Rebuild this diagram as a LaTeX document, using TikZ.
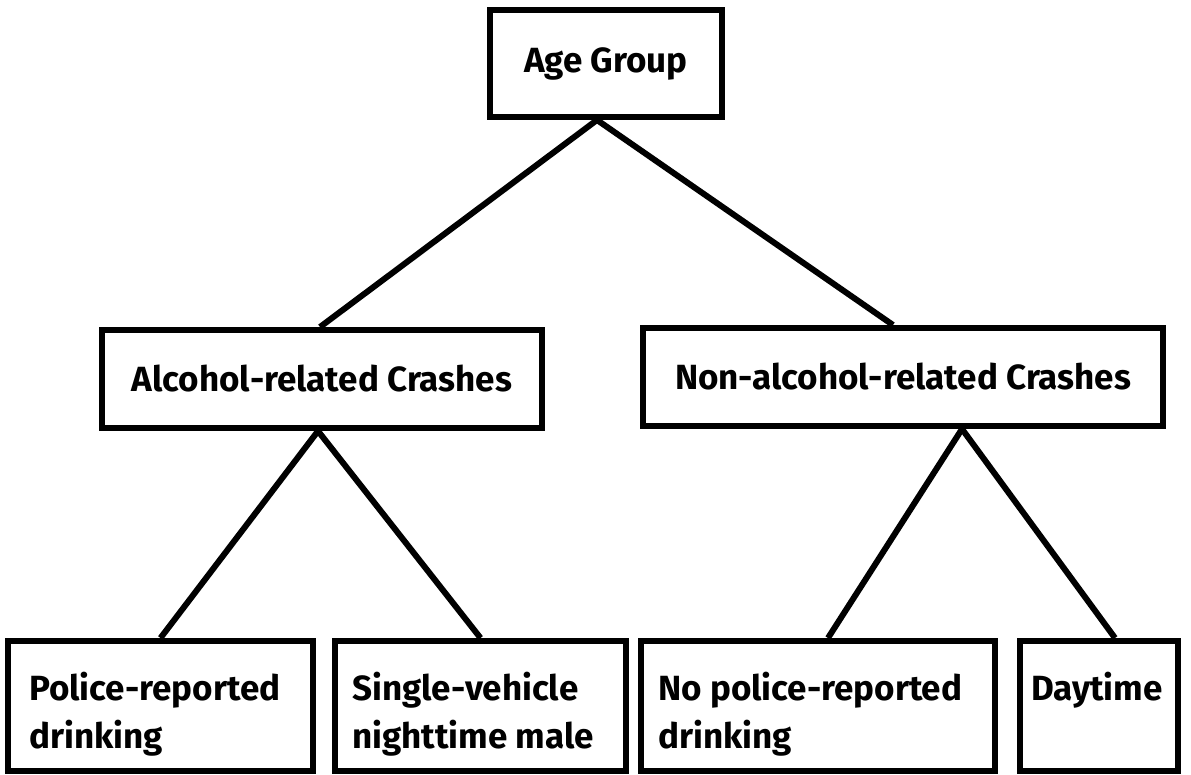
\documentclass[tikz,border=0pt]{standalone}
\usepackage{fontspec}
\setmainfont{Fira Sans}
\usetikzlibrary{calc}
\begin{document}
\begin{tikzpicture}[x=1pt,y=-1pt,
  txt/.style={font=\bfseries\fontsize{35}{48}\selectfont},
  box/.style={draw,line width=6pt,inner sep=0pt,txt},
  leaf/.style={draw,line width=6pt,inner sep=0pt,minimum height=130pt},
  lbl/.style={txt,inner sep=0pt,align=left,anchor=north west},
  link/.style={line width=6pt}]
\useasboundingbox (0,0) rectangle (1191,775);
\fill[white] (0,0) rectangle (1191,775);
\node[box,minimum width=232pt,minimum height=107pt] (age) at (606,63.5) {Age Group};
\node[box,minimum width=440pt,minimum height=98pt] (alc) at (322,379) {Alcohol-related Crashes};
\node[box,minimum width=520pt,minimum height=98pt] (non) at (903,377) {Non-alcohol-related Crashes};
\node[leaf,minimum width=305pt] (pol) at (160.5,706) {};
\node[leaf,minimum width=291pt] (sv) at (480.5,706) {};
\node[leaf,minimum width=354pt] (npol) at (818,706) {};
\node[leaf,minimum width=158pt] (day) at (1099,706) {};
\node[lbl] (polt) at ($(pol.north west)+(24,34)$) {Police-reported\\drinking};
\node[lbl] (svt) at ($(sv.north west)+(20,34)$) {Single-vehicle\\nighttime male};
\node[lbl] (npolt) at ($(npol.north west)+(20,34)$) {No police-reported\\drinking};
\node[lbl] (dayt) at ($(day.north west)+(14,34)$) {Daytime};
\draw[link] ([xshift=-9pt]age.south) -- ([xshift=-2pt]alc.north);
\draw[link] ([xshift=-9pt]age.south) -- ([xshift=-10pt]non.north);
\draw[link] ([xshift=-4pt]alc.south) -- ([xshift=0pt]pol.north);
\draw[link] ([xshift=-4pt]alc.south) -- ([xshift=0pt]sv.north);
\draw[link] ([xshift=59pt]non.south) -- ([xshift=10pt]npol.north);
\draw[link] ([xshift=59pt]non.south) -- ([xshift=16pt]day.north);
\end{tikzpicture}
\end{document}
